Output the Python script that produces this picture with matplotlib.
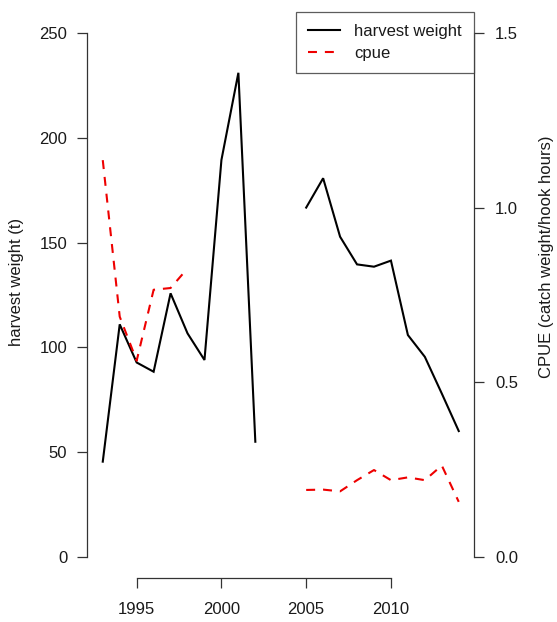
import numpy as np
import matplotlib
matplotlib.use("Agg")
import matplotlib.pyplot as plt
from matplotlib.lines import Line2D

plt.rcParams["font.family"] = ["Liberation Sans", "DejaVu Sans"]
plt.rcParams["font.size"] = 12

# Yearly fishery series (NaN = no record for that year)
years = [1993, 1994, 1995, 1996, 1997, 1998, 1999, 2000, 2001, 2002, 2003,
         2004, 2005, 2006, 2007, 2008, 2009, 2010, 2011, 2012, 2013, 2014]
harvest_t = [45.5, 111.0, 92.8, 88.4, 125.8, 106.7, 94.0, 189.4, 231.0, 55.0,
             np.nan, np.nan, 166.7, 180.7, 152.8, 139.6, 138.5, 141.4, 105.9,
             95.5, 78.0, 60.1]
cpue = [1.136, 0.688, 0.562, 0.765, 0.770, 0.826, np.nan, np.nan, np.nan,
        np.nan, np.nan, np.nan, 0.192, 0.193, 0.188, 0.220, 0.249, 0.220,
        0.228, 0.220, 0.262, 0.158]

left_ticks = [0, 50, 100, 150, 200, 250]
right_ticks = [0.0, 0.5, 1.0, 1.5]
right_tick_labels = ["0.0", "0.5", "1.0", "1.5"]
x_ticks = [1995, 2000, 2005, 2010]

W, H = 557, 622
fig = plt.figure(figsize=(W / 100, H / 100), dpi=100)
ax = fig.add_axes([87 / W, 1 - 578 / H, (474 - 87) / W, (578 - 12) / H])
ax2 = ax.twinx()

axis_col = "#333333"
text_col = "#1a1a1a"

ax.plot(years, harvest_t, color="black", lw=1.5, solid_joinstyle="miter")
ax2.plot(years, cpue, color="#ee0000", lw=1.5, dashes=(4.3, 3.8))

ax.set_xlim(1992.07, 2014.90)
ax.set_ylim(-10, 260)
ax2.set_ylim(-0.06, 1.56)

for a in (ax, ax2):
    for s in a.spines.values():
        s.set_visible(False)
    a.patch.set_visible(False)

ax.spines["left"].set_visible(True)
ax.spines["left"].set_bounds(0, 250)
ax.spines["bottom"].set_visible(True)
ax.spines["bottom"].set_bounds(1995, 2010)
ax2.spines["right"].set_visible(True)
ax2.spines["right"].set_bounds(0, 1.5)
for s in (ax.spines["left"], ax.spines["bottom"], ax2.spines["right"]):
    s.set_color(axis_col)
    s.set_linewidth(0.9)

ax.set_xticks(x_ticks)
ax.set_yticks(left_ticks)
ax2.set_yticks(right_ticks)
ax2.set_yticklabels(right_tick_labels)
ax.tick_params(axis="both", length=7.2, width=0.9, color=axis_col,
               labelcolor=text_col, labelsize=12, pad=7)
ax2.tick_params(axis="y", length=7.2, width=0.9, color=axis_col,
                labelcolor=text_col, labelsize=12, pad=8)
ax.tick_params(axis="x", pad=10)

fig.text(17 / W, 1 - 282 / H, "harvest weight (t)", rotation=90,
         ha="center", va="center", color=text_col, fontsize=12)
fig.text(546 / W, 1 - 257 / H, "CPUE (catch weight/hook hours)", rotation=90,
         ha="center", va="center", color=text_col, fontsize=12)

handles = [Line2D([], [], color="black", lw=1.5),
           Line2D([], [], color="#ee0000", lw=1.5, dashes=(4.3, 3.8))]
leg = ax2.legend(handles, ["harvest weight", "cpue"], loc="upper right",
                 bbox_to_anchor=(1, 1), borderaxespad=0, frameon=True,
                 fancybox=False, edgecolor=axis_col, fontsize=12,
                 handlelength=1.95, handletextpad=0.85, borderpad=0.72,
                 labelspacing=0.42)
leg.get_frame().set_linewidth(0.9)
for t in leg.get_texts():
    t.set_color(text_col)

fig.savefig("out.png", dpi=100)
